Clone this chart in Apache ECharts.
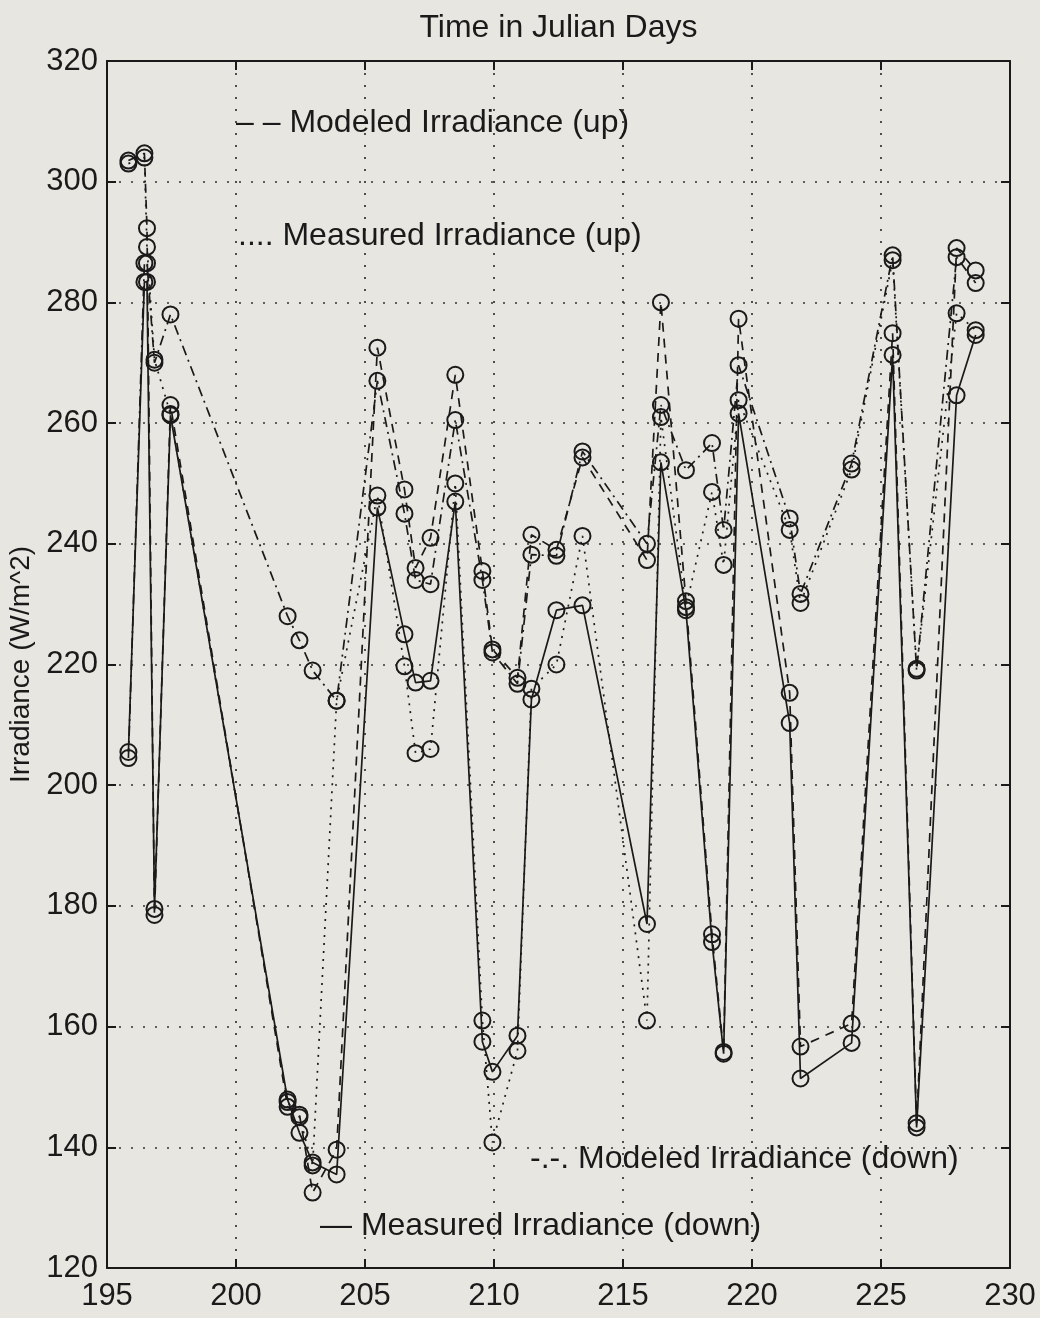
<!DOCTYPE html>
<html>
<head>
<meta charset="utf-8">
<script src="https://cdn.jsdelivr.net/npm/echarts@6/dist/echarts.min.js"></script>
<style>
html,body{margin:0;padding:0;background:#e7e6e0;}
#chart{width:1040px;height:1318px;}
</style>
</head>
<body>
<div id="chart"></div>
<script>
// Julian days of the samples
var days = [195.83, 196.45, 196.55, 196.84, 197.46, 202.0, 202.46, 202.97, 203.9, 205.48,
  206.53, 206.96, 207.54, 208.5, 209.55, 209.94, 210.91, 211.45, 212.42, 213.43,
  215.93, 216.47, 217.44, 218.45, 218.9, 219.48, 221.46, 221.88, 223.86, 225.45,
  226.38, 227.93, 228.67];
// Modeled Irradiance (up) - dashed
var modeledUp = [303.5, 304.7, 292.3, 178.5, 263, 146.7, 145.4, 132.5, 139.6, 272.5,
  249, 236, 241, 268, 235.5, 222.5, 217.8, 241.5, 239, 254.3,
  237.3, 280, 230.5, 175.3, 155.8, 277.3, 215.3, 156.7, 160.5, 274.9,
  144, 289, 285.3];
// Measured Irradiance (up) - dotted
var measuredUp = [303, 304, 289.2, 270.5, 261.5, 147.5, 145, 137, 214, 248,
  219.7, 205.3, 206, 250, 161, 140.8, 156, 216, 220, 241.3,
  161, 261, 229.5, 248.6, 236.5, 263.8, 242.3, 230.2, 252.3, 287,
  219.3, 278.2, 275.4];
// Modeled Irradiance (down) - dash-dot
var modeledDown = [204.5, 286.5, 286.5, 270, 278, 228, 224, 219, 214, 267,
  245, 234, 233.3, 260.5, 234, 222, 216.8, 238.2, 238, 255.3,
  240, 263, 252.2, 256.7, 242.3, 269.6, 244.2, 231.7, 253.3, 287.8,
  219, 287.5, 283.2];
// Measured Irradiance (down) - solid
var measuredDown = [205.5, 283.4, 283.4, 179.5, 261.3, 147.9, 142.4, 137.5, 135.5, 246,
  225, 217, 217.3, 247, 157.5, 152.5, 158.5, 214.2, 229, 229.8,
  177, 253.5, 229, 174, 155.5, 261.6, 210.3, 151.4, 157.3, 271.3,
  143.3, 264.6, 274.6];
var xTicks = {min: 195, max: 230, step: 5};
var yTicks = {min: 120, max: 320, step: 20};

function pairs(vals){ return days.map(function(d,i){ return [d, vals[i]]; }); }

var FONT = 'Liberation Sans';
var INK = '#1a1a1a';
var chart = echarts.init(document.getElementById('chart'), null, {renderer:'canvas'});

function mkSeries(name, vals, dash){
  return {
    name: name, type: 'line', data: pairs(vals),
    symbol: 'circle', symbolSize: 16,
    itemStyle: {color: 'rgba(0,0,0,0)', borderColor: INK, borderWidth: 2},
    lineStyle: {color: INK, width: 1.7, type: dash},
    emphasis: {disabled: true},
    animation: false, z: 3
  };
}

var axisLineStyle = {show: true, lineStyle: {color: INK, width: 2}};
var tick = {show: true, inside: true, length: 9, lineStyle: {color: INK, width: 2}};
var grid = {show: true, lineStyle: {color: '#333', width: 1.7, type: [2, 10]}};
var option = {
  backgroundColor: '#e7e6e0',
  animation: false,
  grid: {left: 107, right: 30, top: 61, bottom: 50, containLabel: false, outerBoundsMode: 'none'},
  xAxis: [{
    type: 'value', min: xTicks.min, max: xTicks.max, interval: xTicks.step,
    position: 'bottom',
    axisLine: axisLineStyle, axisTick: tick,
    axisLabel: {fontFamily: FONT, fontSize: 31, color: INK, margin: 13},
    splitLine: grid
  }, {
    type: 'value', min: xTicks.min, max: xTicks.max, interval: xTicks.step,
    position: 'top',
    name: 'Time in Julian Days', nameLocation: 'middle', nameGap: 17,
    nameTextStyle: {fontFamily: FONT, fontSize: 32, color: INK},
    axisLine: axisLineStyle, axisTick: tick,
    axisLabel: {show: false}, splitLine: {show: false}
  }],
  yAxis: [{
    type: 'value', min: yTicks.min, max: yTicks.max, interval: yTicks.step,
    position: 'left',
    name: 'Irradiance (W/m^2)', nameLocation: 'middle', nameGap: 60, nameRotate: 90,
    nameTextStyle: {fontFamily: FONT, fontSize: 28, color: INK},
    axisLine: axisLineStyle, axisTick: tick,
    axisLabel: {fontFamily: FONT, fontSize: 31, color: INK, margin: 9},
    splitLine: grid
  }, {
    type: 'value', min: yTicks.min, max: yTicks.max, interval: yTicks.step,
    position: 'right',
    axisLine: axisLineStyle, axisTick: tick,
    axisLabel: {show: false}, splitLine: {show: false}
  }],
  series: [
    mkSeries('Modeled Irradiance (up)', modeledUp, [9, 7]),
    mkSeries('Measured Irradiance (up)', measuredUp, [2, 6]),
    mkSeries('Modeled Irradiance (down)', modeledDown, [10, 5, 2, 5]),
    mkSeries('Measured Irradiance (down)', measuredDown, 'solid')
  ],
  graphic: [
    {type: 'text', left: 236, top: 107, z: 10,
     style: {text: '– – Modeled Irradiance (up)', fontFamily: FONT, fontSize: 32, fill: INK}},
    {type: 'text', left: 238, top: 220, z: 10,
     style: {text: '.... Measured Irradiance (up)', fontFamily: FONT, fontSize: 32, fill: INK}},
    {type: 'text', left: 530, top: 1143, z: 10,
     style: {text: '-.-. Modeled Irradiance (down)', fontFamily: FONT, fontSize: 32, fill: INK}},
    {type: 'text', left: 320, top: 1210, z: 10,
     style: {text: '— Measured Irradiance (down)', fontFamily: FONT, fontSize: 32, fill: INK}}
  ]
};
chart.setOption(option);
</script>
</body>
</html>
